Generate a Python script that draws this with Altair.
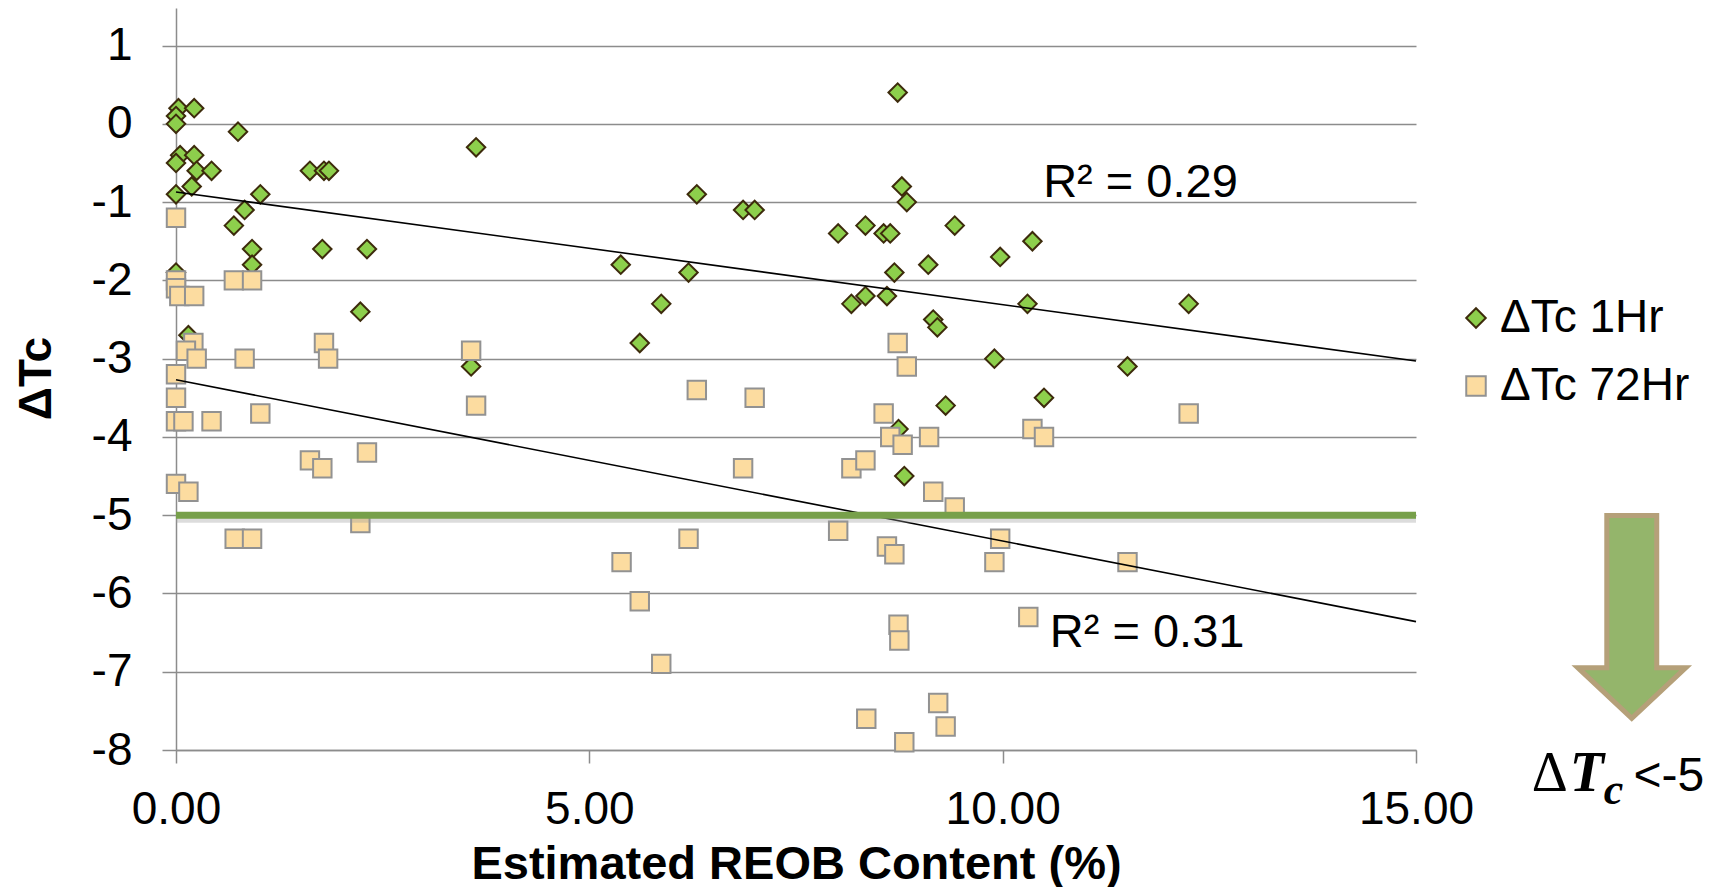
import altair as alt
import pandas as pd

# ---------------- data ----------------
series_names = ["ΔTc 1Hr", "ΔTc 72Hr"]

x_1hr = [0.03, 0.22, 0.00, 0.00, 0.75, 3.63, 0.05, 0.22, 0.00, 0.25, 0.43, 1.62, 1.79, 1.85,
         0.19, 0.00, 1.02, 0.83, 0.70, 0.92, 1.77, 2.31, 0.92, 0.00, 2.23, 0.15, 3.57,
         8.73, 6.30, 6.86, 7.00, 8.78, 8.84, 8.01, 8.34, 8.56, 8.64, 9.42, 5.38, 6.20, 8.69,
         9.10, 9.97, 10.36, 5.87, 8.17, 8.34, 8.60, 9.16, 9.21, 10.30, 12.25, 5.61, 9.90,
         11.51, 9.31, 10.50, 8.74, 8.81]
dtc_1hr = [0.2, 0.2, 0.1, 0.0, -0.1, -0.3, -0.4, -0.4, -0.5, -0.6, -0.6, -0.6, -0.6, -0.6,
           -0.8, -0.9, -0.9, -1.1, -1.3, -1.6, -1.6, -1.6, -1.8, -1.9, -2.4, -2.7, -3.1,
           0.4, -0.9, -1.1, -1.1, -0.8, -1.0, -1.4, -1.3, -1.4, -1.4, -1.3, -1.8, -1.9, -1.9,
           -1.8, -1.7, -1.5, -2.3, -2.3, -2.2, -2.2, -2.5, -2.6, -2.3, -2.3, -2.8, -3.0,
           -3.1, -3.6, -3.5, -3.9, -4.5]

x_72hr = [0.00, 0.00, 0.00, 0.04, 0.22, 0.70, 0.92, 0.21, 0.12, 0.25, 0.83, 1.79, 1.84, 3.57,
          0.00, 0.00, 0.00, 0.09, 0.43, 1.02, 3.63, 1.62, 1.77, 2.31, 0.00, 0.15, 2.23, 0.71,
          0.92,
          8.73, 8.84, 6.30, 7.00, 8.56, 8.64, 8.79, 9.11, 6.86, 8.17, 8.34, 9.16, 9.42, 6.20,
          8.01, 8.60, 8.69, 9.97, 9.90, 5.39, 5.61, 8.74, 8.75, 5.87, 8.35, 9.22, 9.31, 8.81,
          12.25, 10.36, 10.50, 11.51, 10.31]
dtc_72hr = [-1.2, -2.0, -2.1, -2.2, -2.2, -2.0, -2.0, -2.8, -2.9, -3.0, -3.0, -2.8, -3.0, -2.9,
            -3.2, -3.5, -3.8, -3.8, -3.8, -3.7, -3.6, -4.3, -4.4, -4.2, -4.6, -4.7, -5.1, -5.3,
            -5.3,
            -2.8, -3.1, -3.4, -3.5, -3.7, -4.0, -4.1, -4.0, -4.4, -4.4, -4.3, -4.7, -4.9, -5.3,
            -5.2, -5.4, -5.5, -5.3, -5.6, -5.6, -6.1, -6.4, -6.6, -6.9, -7.6, -7.4, -7.7, -7.9,
            -3.7, -3.9, -4.0, -5.6, -6.3]

# linear trend lines (end values)
trend_x = [0, 15]
trend_1hr = [-0.87, -3.03]
trend_72hr = [-3.27, -6.36]

r2_text = ["R² = 0.29", "R² = 0.31"]
r2_x = [10.49, 10.57]
r2_y = [-0.93, -6.68]

threshold = -5

x_ticks = [0, 5, 10, 15]
y_ticks = [-8, -7, -6, -5, -4, -3, -2, -1, 0, 1]

# ---------------- tables ----------------
pts = pd.DataFrame({
    "x": x_1hr + x_72hr,
    "y": dtc_1hr + dtc_72hr,
    "series": [series_names[0]] * len(x_1hr) + [series_names[1]] * len(x_72hr),
})
trend = pd.DataFrame({
    "x": trend_x + trend_x,
    "y": trend_1hr + trend_72hr,
    "series": [series_names[0]] * 2 + [series_names[1]] * 2,
})
r2 = pd.DataFrame({"x": r2_x, "y": r2_y, "t": r2_text})

FONT = "Liberation Sans"
GRID = "#8c8c8c"

xscale = alt.Scale(domain=[0, 15], nice=False, zero=False)
yscale = alt.Scale(domain=[-8, 1.48], nice=False, zero=False)

x_enc = alt.X("x:Q", scale=xscale, axis=alt.Axis(
    values=x_ticks, format=".2f", grid=False, tickSize=13, tickWidth=1.5, tickColor=GRID,
    domainColor=GRID, domainWidth=1.5, labelFontSize=46, labelFont=FONT, labelColor="black",
    labelPadding=24, labelFlush=False, labelOverlap=False,
    title="Estimated REOB Content (%)", titleFontSize=47, titleFont=FONT,
    titleFontWeight="bold", titleColor="black", titleX=620, titleY=128,
    titleBaseline="alphabetic", titleAlign="center", titleAngle=0))
y_enc = alt.Y("y:Q", scale=yscale, axis=alt.Axis(
    values=y_ticks, labelExpr="'' + datum.value", grid=True, gridColor=GRID, gridWidth=1.5,
    tickSize=14, tickWidth=1.5, tickColor=GRID, domainColor=GRID, domainWidth=1.5,
    labelFontSize=46, labelFont=FONT, labelColor="black", labelPadding=30,
    labelOverlap=False, labelFlush=False,
    title="ΔTc", titleFontSize=46, titleFont=FONT, titleFontWeight="bold",
    titleColor="black", titleX=-140, titleY=370, titleAngle=270,
    titleBaseline="middle", titleAlign="center"))

points = alt.Chart(pts).mark_point(filled=True, opacity=1, size=340, strokeWidth=2).encode(
    x=x_enc,
    y=y_enc,
    fill=alt.Fill("series:N", title=None,
                  scale=alt.Scale(domain=series_names, range=["#8DCF4C", "#FCDCA0"])),
    stroke=alt.Stroke("series:N", title=None,
                      scale=alt.Scale(domain=series_names, range=["#3D2B0C", "#929292"])),
    shape=alt.Shape("series:N", title=None,
                    scale=alt.Scale(domain=series_names, range=["diamond", "square"])),
)

lines = alt.Chart(trend).mark_line(color="black", strokeWidth=1.6).encode(
    x="x:Q", y="y:Q", detail="series:N")

shadow = alt.Chart(pd.DataFrame({"y": [threshold]})).mark_rule(
    color="#9a9a9a", strokeWidth=5, opacity=0.35, yOffset=5).encode(y="y:Q")
rule = alt.Chart(pd.DataFrame({"y": [threshold]})).mark_rule(
    color="#77A04A", strokeWidth=7).encode(y="y:Q")

r2_labels = alt.Chart(r2).mark_text(
    align="left", baseline="alphabetic", fontSize=47, font=FONT, color="black").encode(
    x="x:Q", y="y:Q", text="t:N")

# big arrow annotation (custom symbol) and the "ΔTc<-5" note
ARROW = "M-0.246,-1L0.246,-1L0.246,0.5L0.532,0.5L0,1L-0.532,0.5L-0.246,0.5Z"
arrow = alt.Chart(pd.DataFrame({"x": [17.61], "y": [-6.30]})).mark_point(
    shape=ARROW, size=203 * 203, filled=True, fill="#94B56B", stroke="#B5A079",
    strokeWidth=5, opacity=1).encode(x="x:Q", y="y:Q")


def note(txt, x, y, size, font, weight="normal", style="normal"):
    return alt.Chart(pd.DataFrame({"x": [x], "y": [y], "t": [txt]})).mark_text(
        align="left", baseline="alphabetic", fontSize=size, font=font,
        fontWeight=weight, fontStyle=style, color="black").encode(
        x="x:Q", y="y:Q", text="t:N")


n1 = note("Δ", 16.40, -8.52, 56, "Liberation Serif")
n2 = note("T", 16.86, -8.52, 56, "Liberation Serif", "bold", "italic")
n3 = note("c", 17.27, -8.69, 44, "Liberation Serif", "bold", "italic")
n4 = note("<-5", 17.63, -8.52, 48, FONT)

chart = alt.layer(points, lines, shadow, rule, r2_labels, arrow, n1, n2, n3, n4).properties(
    width=1240, height=742,
    autosize=alt.AutoSizeParams(type="none"),
    padding={"left": 168, "top": 0, "right": 300, "bottom": 137},
).configure(font=FONT).configure_view(strokeWidth=0).configure_legend(
    orient="none", legendX=1277, legendY=287, symbolSize=380, symbolStrokeWidth=2,
    labelFontSize=46, labelFont=FONT, labelColor="black", labelOffset=1, rowPadding=22,
    padding=0, labelLimit=0, titlePadding=0,
)

chart.save("out.html", embed_options={"renderer": "svg", "actions": False})
